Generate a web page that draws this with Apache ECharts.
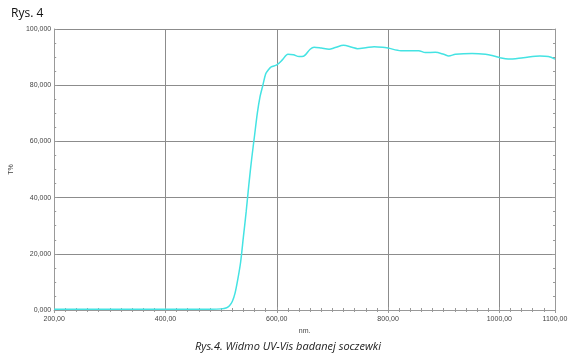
<!DOCTYPE html>
<html>
<head>
<meta charset="utf-8">
<script src="https://cdn.jsdelivr.net/npm/echarts@6/dist/echarts.min.js"></script>
<style>
html,body{margin:0;padding:0;background:#fff;}
#c{width:576px;height:357px;}
</style>
</head>
<body>
<div id="c"></div>
<script>
var wavelengths = [200,300,400,450,480,500,510,515,520,525,530,535,540,545,550,555,560,565,570,575,580,585,590,600,610,620,630,640,648,660,667,680,694,705,720,735,745,760,775,790,800,823,855,867,885,900,909,921,951,975,990,1001,1016,1043,1073,1088,1100];
var transmission = [0.3,0.3,0.3,0.3,0.3,0.4,0.8,1.5,3,6,11,17,26,35,45,54,62,70,76,80,84,85.5,86.5,87.2,89,91,90.8,90.2,90.3,92.8,93.5,93.2,92.8,93.4,94.2,93.5,93.0,93.3,93.7,93.5,93.2,92.3,92.3,91.6,91.7,91.0,90.4,91.0,91.3,91.0,90.4,89.8,89.3,89.8,90.4,90.2,89.3];
var xTicks = [200,400,600,800,1000,1100];
var yTicks = [0,20,40,60,80,100];
var titleText = 'Rys. 4';
var captionText = 'Rys.4. Widmo UV-Vis badanej soczewki';
var xName = 'nm.';
var yName = 'T%';

var data = wavelengths.map(function(w,i){return [w, transmission[i]];});
var chart = echarts.init(document.getElementById('c'));
var lbl = {fontFamily:'Liberation Sans', fontSize:7, color:'#444'};
chart.setOption({
  animation:false,
  backgroundColor:'#fff',
  title:[
    {text:titleText, left:6, top:3, textStyle:{fontFamily:'Open Sans', fontSize:12, fontWeight:'normal', color:'#111'}},
    {text:captionText, left:'center', top:336, textStyle:{fontFamily:'Open Sans', fontSize:11, fontStyle:'italic', fontWeight:'normal', color:'#222'}}
  ],
  grid:{left:52, right:21, top:29, bottom:47},
  xAxis:[{
    type:'value', min:200, max:1100, interval:200,
    name:xName, nameLocation:'middle', nameGap:16, nameTextStyle:lbl,
    axisLine:{lineStyle:{color:'#999'}},
    axisTick:{show:true, inside:true, length:3, lineStyle:{color:'#999'}},
    minorTick:{show:true, splitNumber:10, length:2, lineStyle:{color:'#999'}},
    axisLabel:Object.assign({margin:6, showMaxLabel:true, customValues:xTicks, formatter:function(v){return v.toFixed(2).replace('.',',');}}, lbl),
    splitLine:{show:true, lineStyle:{color:'#8c8c8c', width:1}}
  },{
    type:'value', min:200, max:1100, interval:200, position:'top',
    axisLine:{show:true, lineStyle:{color:'#999'}},
    axisTick:{show:true, inside:true, length:3, lineStyle:{color:'#999'}},
    minorTick:{show:true, splitNumber:10, length:2, lineStyle:{color:'#999'}},
    axisLabel:{show:false}, splitLine:{show:false}
  }],
  yAxis:[{
    type:'value', min:0, max:100, interval:20,
    name:yName, nameLocation:'middle', nameGap:37, nameRotate:90, nameTextStyle:lbl,
    axisLine:{show:true, lineStyle:{color:'#999'}},
    axisTick:{show:true, inside:true, length:3, lineStyle:{color:'#999'}},
    minorTick:{show:true, splitNumber:4, length:2, lineStyle:{color:'#999'}},
    axisLabel:Object.assign({margin:3, formatter:function(v){return v.toFixed(3).replace('.',',');}}, lbl),
    splitLine:{show:true, lineStyle:{color:'#8c8c8c', width:1}}
  },{
    type:'value', min:0, max:100, interval:20, position:'right',
    axisLine:{show:true, lineStyle:{color:'#999'}},
    axisTick:{show:true, inside:true, length:3, lineStyle:{color:'#999'}},
    minorTick:{show:true, splitNumber:4, length:2, lineStyle:{color:'#999'}},
    axisLabel:{show:false}, splitLine:{show:false}
  }],
  series:[{
    type:'line', data:data, smooth:0.3, showSymbol:false,
    lineStyle:{color:'#44e3e3', width:1.5}
  }]
});
</script>
</body>
</html>
